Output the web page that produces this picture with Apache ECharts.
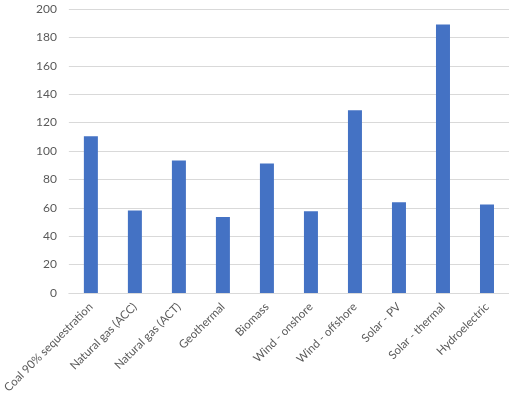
<!DOCTYPE html>
<html><head><meta charset="utf-8">
<script src="https://cdn.jsdelivr.net/npm/echarts@6/dist/echarts.min.js"></script>
<style>html,body{margin:0;padding:0;background:#fff}#c{width:509px;height:396px}</style>
</head><body><div id="c"></div>
<script>
var categories = ["Coal 90% sequestration","Natural gas (ACC)","Natural gas (ACT)","Geothermal","Biomass","Wind - onshore","Wind - offshore","Solar - PV","Solar - thermal","Hydroelectric"];
var values = [110.3, 58.1, 93.2, 53.5, 91.1, 57.6, 128.6, 63.8, 189, 62.3];
var yTicks = {min:0, max:200, interval:20};
var chart = echarts.init(document.getElementById('c'), null, {renderer:'canvas'});
chart.setOption({
  animation:false,
  grid:{left:68, right:-3, top:9, bottom:98.5, containLabel:false},
  xAxis:{type:'category', data:categories,
    axisLine:{lineStyle:{color:'#d9d9d9', width:1}}, axisTick:{show:false},
    axisLabel:{rotate:45, interval:0, color:'#595959', fontFamily:'Lato', fontSize:11.5, margin:12}},
  yAxis:{type:'value', min:yTicks.min, max:yTicks.max, interval:yTicks.interval,
    axisLine:{show:false}, axisTick:{show:false},
    splitLine:{lineStyle:{color:'#d9d9d9', width:1}},
    axisLabel:{color:'#595959', fontFamily:'Lato', fontSize:12, margin:12}},
  series:[{type:'bar', data:values, barWidth:14, itemStyle:{color:'#4472C4'}}]
});
</script></body></html>
